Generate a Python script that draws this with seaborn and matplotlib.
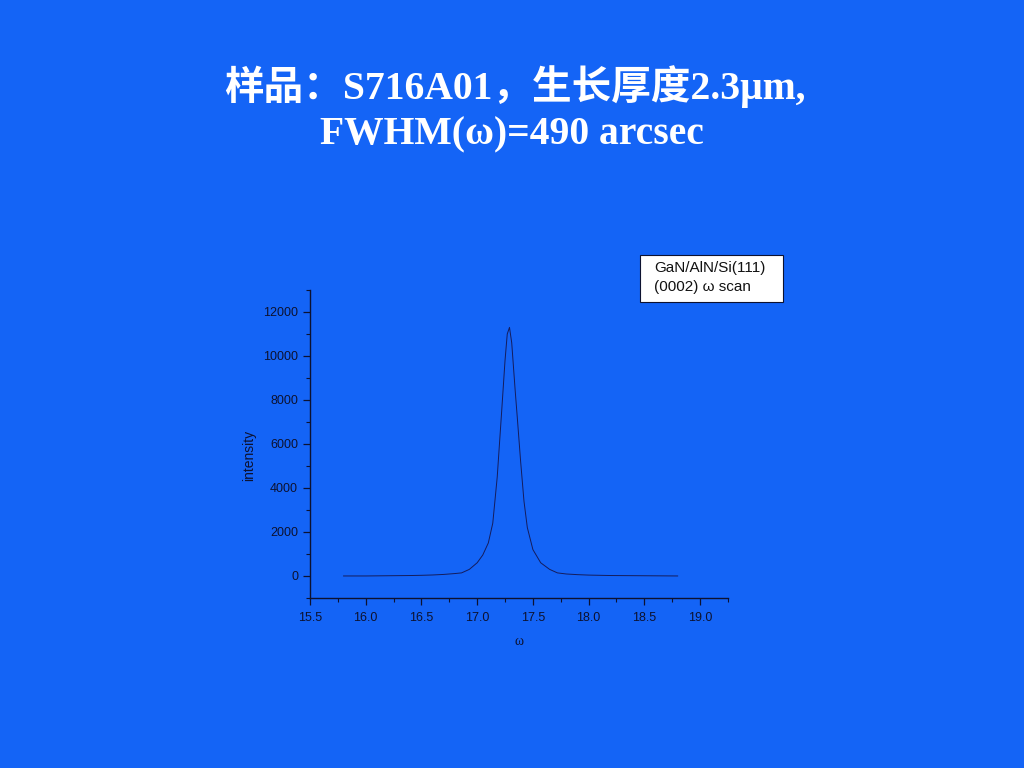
import matplotlib
matplotlib.use('Agg')
import matplotlib.pyplot as plt
import seaborn as sns
import pandas as pd
from matplotlib.patches import Rectangle
from matplotlib.ticker import MultipleLocator

# omega scan values
omega = [15.80, 16.00, 16.20, 16.40, 16.50, 16.60, 16.70, 16.80, 16.86, 16.93,
         17.00, 17.05, 17.10, 17.14, 17.18, 17.22, 17.25, 17.27, 17.29, 17.31,
         17.34, 17.36, 17.39, 17.42, 17.45, 17.50, 17.57, 17.65, 17.72, 17.80,
         17.90, 18.00, 18.20, 18.50, 18.80]
intensity = [0, 0, 10, 20, 30, 45, 70, 110, 140, 300,
             600, 950, 1500, 2400, 4500, 7500, 9800, 11000, 11300, 10600,
             8500, 7200, 5200, 3400, 2200, 1200, 600, 300, 140, 90,
             60, 40, 20, 10, 0]

x_ticks = [15.5, 16.0, 16.5, 17.0, 17.5, 18.0, 18.5, 19.0]
y_ticks = [0, 2000, 4000, 6000, 8000, 10000, 12000]

title_1 = '样品：S716A01，生长厚度2.3μm,'
title_2 = 'FWHM(ω)=490 arcsec'
legend_lines = ['GaN/AlN/Si(111)', '(0002) ω scan']

bg = '#1464F6'
ink = '#0d1230'

sns.set_theme(style='ticks')
plt.rcParams['font.family'] = ['Liberation Sans', 'DejaVu Sans']

df = pd.DataFrame({'omega': omega, 'intensity': intensity})

fig = plt.figure(figsize=(10.24, 7.68), dpi=100, facecolor=bg)
ax = fig.add_axes([0.3027, 0.2214, 0.4082, 0.401])
ax.set_facecolor(bg)

sns.lineplot(data=df, x='omega', y='intensity', ax=ax, color='#141c5c',
             linewidth=0.7)

ax.set_xlim(15.5, 19.25)
ax.set_ylim(-1000, 13000)
ax.set_xticks(x_ticks)
ax.set_xticklabels([f'{v:.1f}' for v in x_ticks])
ax.set_yticks(y_ticks)
ax.set_yticklabels([str(v) for v in y_ticks])
ax.xaxis.set_minor_locator(MultipleLocator(0.25))
ax.yaxis.set_minor_locator(MultipleLocator(1000))

for s in ['top', 'right']:
    ax.spines[s].set_visible(False)
for s in ['left', 'bottom']:
    ax.spines[s].set_color(ink)
    ax.spines[s].set_linewidth(1.0)

ax.tick_params(axis='both', which='major', direction='out', length=5,
               width=0.9, color=ink, labelcolor=ink, labelsize=9)
ax.tick_params(axis='both', which='minor', direction='out', length=3,
               width=0.8, color=ink)
ax.tick_params(axis='x', pad=5)

ax.set_xlabel('ω', fontsize=10, color=ink, family=['Liberation Serif'])
ax.xaxis.set_label_coords(0.5, -0.12)
ax.set_ylabel('intensity', fontsize=10, color=ink)
ax.yaxis.set_label_coords(-0.13, 0.464)

# legend box
fig.patches.append(Rectangle((640 / 1024, 1 - 302 / 768), 143 / 1024, 47 / 768,
                             transform=fig.transFigure, facecolor='white',
                             edgecolor=ink, linewidth=0.8))
fig.text(654 / 1024, 1 - 268 / 768, legend_lines[0], fontsize=11, color='#111',
         va='center', ha='left')
fig.text(654 / 1024, 1 - 287 / 768, legend_lines[1], fontsize=11, color='#111',
         va='center', ha='left')

tfam = ['Liberation Serif', 'Noto Sans CJK SC']
fig.text(0.503, 1 - 87 / 768, title_1, fontsize=28.5, color='white',
         weight='bold', ha='center', va='center', family=tfam)
fig.text(0.5, 1 - 135 / 768, title_2, fontsize=28.5, color='white',
         weight='bold', ha='center', va='center', family=tfam)

fig.savefig('out.png', dpi=100, facecolor=bg)
